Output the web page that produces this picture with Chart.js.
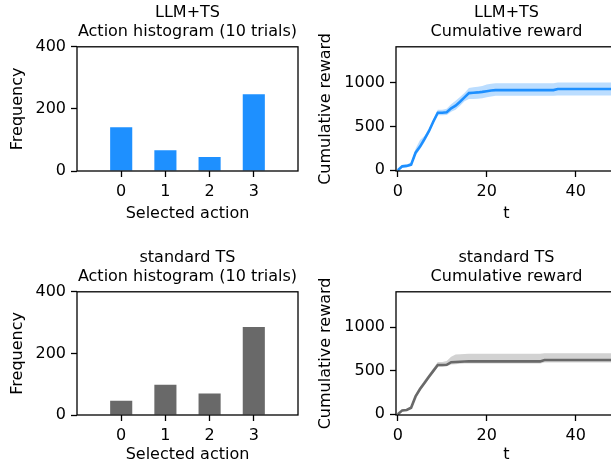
<!DOCTYPE html>
<html lang="en">
<head>
  <meta charset="UTF-8" />
  <title>LLM+TS vs standard TS</title>
  <style>
    html, body {
      margin: 0;
      padding: 0;
      background: #fff;
      overflow: hidden;
    }

    body {
      position: relative;
      width: 611px;
      height: 468px;
    }

    .panel {
      position: absolute;
    }
  </style>
</head>
<body>
  <div class="panel" style="left:0;top:0;width:310px;height:227px"><canvas id="histLlm"></canvas></div>
  <div class="panel" style="left:312px;top:0;width:315px;height:227px"><canvas id="rewardLlm"></canvas></div>
  <div class="panel" style="left:0;top:245px;width:310px;height:223px"><canvas id="histStd"></canvas></div>
  <div class="panel" style="left:312px;top:245px;width:315px;height:223px"><canvas id="rewardStd"></canvas></div>

  <script src="https://cdn.jsdelivr.net/npm/chart.js"></script>
  <script>
    // histogram data
    const actions = [0, 1, 2, 3];
    const llmCounts = [141, 67, 45, 247];
    const stdCounts = [46, 98, 70, 286];
    const freqTicks = [0, 200, 400];

    // cumulative reward, t = 0..49
    const steps = [0,1,2,3,4,5,6,7,8,9,10,11,12,13,14,15,16,17,18,19,20,21,22,23,24,25,26,27,28,29,30,31,32,33,34,35,36,37,38,39,40,41,42,43,44,45,46,47,48,49];
    const llmMean = [0,45,50,65,200,270,355,445,555,655,655,660,705,735,780,830,878,882,886,892,900,908,912,912,912,912,912,912,912,912,912,912,912,912,912,912,925,925,925,925,925,925,925,925,925,925,925,925,925,925];
    const llmUpper = [0,60,65,90,245,345,390,470,580,690,690,700,750,790,835,880,935,945,950,960,975,985,990,990,990,990,990,990,990,990,990,990,990,990,990,990,1000,1000,1000,1000,1000,1000,1000,1000,1000,1000,1000,1000,1000,1000];
    const llmLower = [0,30,35,50,170,240,320,420,530,625,625,630,665,690,735,785,810,812,815,820,830,840,848,848,848,848,848,848,848,848,848,848,848,848,848,848,852,852,852,852,852,852,852,852,852,852,852,852,852,852];
    const stdMean = [0,45,50,75,205,290,360,430,498,566,566,568,598,600,603,605,607,607,607,607,607,607,607,607,607,607,607,607,607,607,607,607,607,622,622,622,622,622,622,622,622,622,622,622,622,622,622,622,622,622];
    const stdUpper = [0,55,60,90,225,315,390,460,528,600,600,612,660,685,690,692,695,695,695,695,695,695,695,695,695,695,695,695,695,695,695,695,695,700,700,700,700,700,700,700,700,700,700,700,700,700,700,700,700,700];
    const stdLower = [0,35,40,60,185,265,335,405,475,545,545,550,570,575,580,582,583,583,583,583,583,583,583,583,583,583,583,583,583,583,583,583,583,595,595,595,595,595,595,595,595,595,595,595,595,595,595,595,595,595];
    const tTicks = [0, 20, 40];
    const rewardTicks = [0, 500, 1000];

    Chart.defaults.font.family = "'DejaVu Sans', sans-serif";
    Chart.defaults.font.size = 16;
    Chart.defaults.color = '#000';
    Chart.defaults.animation = false;

    // matplotlib style box round the axes
    const frame = {
      id: 'frame',
      afterDraw(chart) {
        const a = chart.chartArea;
        const ctx = chart.ctx;
        ctx.save();
        ctx.strokeStyle = '#000';
        ctx.lineWidth = 1.3;
        ctx.strokeRect(a.left, a.top, a.right - a.left, a.bottom - a.top);
        ctx.restore();
      }
    };

    function pts(xs, ys) {
      return xs.map((x, i) => ({ x: x, y: ys[i] }));
    }

    function scale(min, max, ticks, label, fitFn) {
      return {
        type: 'linear',
        min: min,
        max: max,
        offset: false,
        afterBuildTicks: s => { s.ticks = ticks.map(v => ({ value: v })); },
        afterFit: fitFn,
        grid: { offset: false, drawOnChartArea: false, drawTicks: true, tickLength: 6, tickColor: '#000', tickWidth: 1.3 },
        border: { display: false },
        ticks: { padding: 5, color: '#000', font: { size: 16 }, callback: v => String(v) },
        title: { display: true, text: label, color: '#000', font: { size: 16 }, padding: { top: 4, bottom: 4 } }
      };
    }

    function titleOpts(lines) {
      return {
        display: true,
        text: lines,
        fullSize: false,
        color: '#000',
        font: { size: 16, weight: 'normal', lineHeight: 1.15 },
        padding: { top: 4, bottom: 6 }
      };
    }

    function histogram(id, name, counts, color, xHeight) {
      return new Chart(document.getElementById(id), {
        type: 'bar',
        data: {
          datasets: [{
            data: pts(actions, counts),
            backgroundColor: color,
            barPercentage: 0.5,
            categoryPercentage: 1.0
          }]
        },
        options: {
          responsive: true,
          maintainAspectRatio: false,
          layout: { padding: { left: 4, right: 12, top: 0, bottom: 0 } },
          plugins: {
            legend: { display: false },
            tooltip: { enabled: false },
            title: titleOpts([name, 'Action histogram (10 trials)'])
          },
          scales: {
            x: scale(-1, 4, actions, 'Selected action', s => { s.height = xHeight; }),
            y: scale(0, 400, freqTicks, 'Frequency', s => { s.width = 73; })
          }
        },
        plugins: [frame]
      });
    }

    function reward(id, name, mean, upper, lower, line, band, xHeight) {
      return new Chart(document.getElementById(id), {
        type: 'line',
        data: {
          datasets: [
            { data: pts(steps, lower), borderWidth: 0, pointRadius: 0, fill: false },
            { data: pts(steps, upper), borderWidth: 0, pointRadius: 0, fill: '-1', backgroundColor: band },
            { data: pts(steps, mean), borderColor: line, borderWidth: 2.6, pointRadius: 0, fill: false }
          ]
        },
        options: {
          responsive: true,
          maintainAspectRatio: false,
          layout: { padding: { left: 0, right: 10, top: 0, bottom: 0 } },
          plugins: {
            legend: { display: false },
            tooltip: { enabled: false },
            title: titleOpts([name, 'Cumulative reward'])
          },
          scales: {
            x: scale(-0.4, 49.3, tTicks, 't', s => { s.height = xHeight; }),
            y: scale(-8, 1405, rewardTicks, 'Cumulative reward', s => { s.width = 84; })
          }
        },
        plugins: [frame]
      });
    }

    histogram('histLlm', 'LLM+TS', llmCounts, '#1e90ff', 56);
    reward('rewardLlm', 'LLM+TS', llmMean, llmUpper, llmLower, '#1e90ff', 'rgba(30,144,255,0.3)', 56);
    histogram('histStd', 'standard TS', stdCounts, '#696969', 53);
    reward('rewardStd', 'standard TS', stdMean, stdUpper, stdLower, '#696969', 'rgba(105,105,105,0.3)', 53);
  </script>
</body>
</html>
